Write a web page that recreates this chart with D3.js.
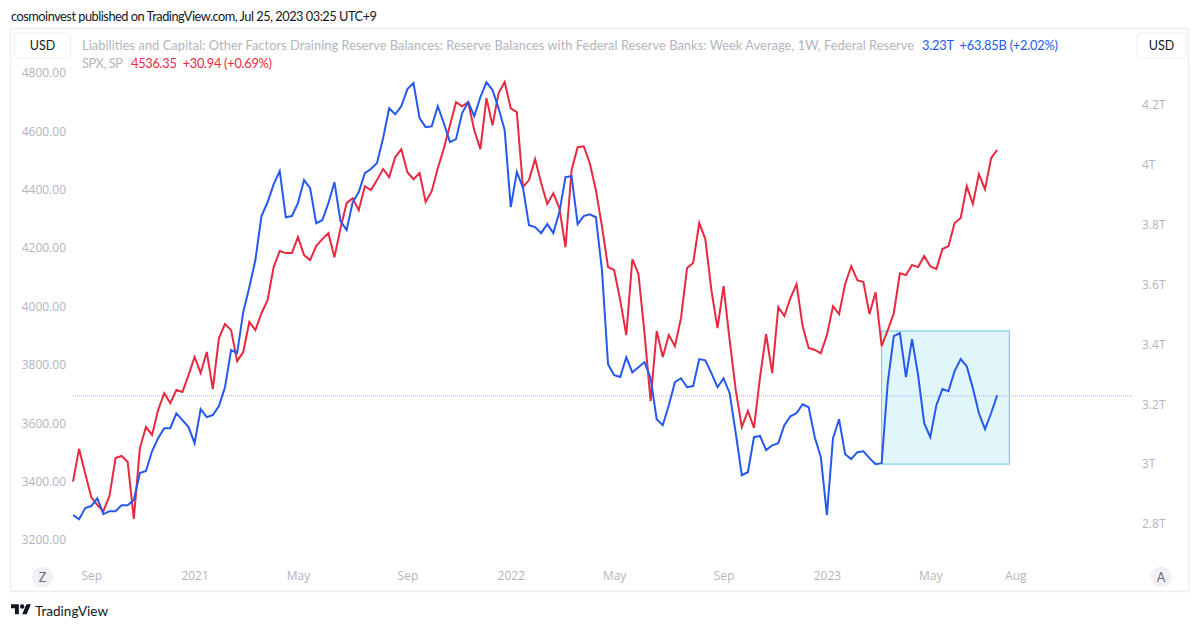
<!DOCTYPE html>
<html>
<head>
<meta charset="utf-8">
<script src="https://cdn.jsdelivr.net/npm/d3@7"></script>
<style>
html,body{margin:0;padding:0;background:#fff;}
svg{display:block;}
text{font-family:Lato,"Open Sans",sans-serif;}
</style>
</head>
<body>
<svg id="chart" width="1200" height="629"></svg>
<script>
// Weekly closes of the S&P 500, first bar on 17 Aug 2020
const spxValues = [
3400,3512,3429,3347,3320,3299,3351,3481,3488,3467,3272,3515,3587,3560,3645,3703,3669,3714,3707,3765,
3827,3772,3844,3717,3892,3940,3919,3813,3844,3947,3919,3977,4022,4135,4190,4183,4183,4238,4176,4159,
4207,4231,4251,4169,4268,4354,4371,4330,4412,4399,4433,4471,4443,4512,4539,4460,4436,4457,4358,4395,
4474,4542,4621,4700,4686,4700,4604,4539,4714,4621,4731,4769,4679,4666,4409,4433,4505,4423,4351,4388,
4337,4203,4467,4546,4549,4491,4399,4275,4135,4125,4022,3902,4162,4111,3909,3676,3916,3827,3902,3864,
3960,4132,4149,4286,4231,4056,3926,4070,3885,3714,3587,3642,3584,3758,3905,3772,3998,3967,4029,4077,
3933,3858,3851,3840,3902,4001,3974,4077,4138,4090,4084,3974,4049,3864,3919,3977,4114,4108,4142,4135,
4173,4138,4128,4197,4207,4286,4303,4412,4351,4453,4402,4508,4536.35];

// Reserve balances with Federal Reserve Banks, weekly average, in trillions of dollars
const reserveValues = [
2.830,2.816,2.853,2.860,2.886,2.833,2.843,2.843,2.863,2.863,2.880,2.970,2.977,3.043,3.087,3.120,3.120,3.170,3.147,3.124,
3.070,3.184,3.157,3.164,3.194,3.257,3.381,3.371,3.508,3.591,3.682,3.829,3.875,3.935,3.979,3.825,3.829,3.872,3.949,3.922,
3.805,3.815,3.872,3.942,3.812,3.782,3.875,3.909,3.972,3.986,4.006,4.089,4.189,4.169,4.196,4.253,4.273,4.156,4.126,4.129,
4.196,4.139,4.076,4.086,4.173,4.209,4.163,4.226,4.276,4.250,4.189,4.116,3.859,3.976,3.925,3.798,3.792,3.772,3.802,3.772,
3.842,3.959,3.962,3.802,3.829,3.835,3.825,3.648,3.334,3.297,3.291,3.357,3.307,3.324,3.341,3.287,3.150,3.130,3.197,3.274,
3.287,3.257,3.261,3.351,3.347,3.304,3.257,3.287,3.237,3.104,2.963,2.973,3.090,3.094,3.047,3.063,3.070,3.130,3.160,3.170,
3.200,3.190,3.090,3.023,2.830,3.087,3.150,3.033,3.017,3.040,3.043,3.020,3.000,3.003,3.271,3.428,3.438,3.291,3.418,3.297,
3.137,3.090,3.197,3.251,3.244,3.311,3.351,3.327,3.254,3.170,3.117,3.170,3.230];

const firstWeek = new Date(Date.UTC(2020, 7, 17));
const weekDates = spxValues.map((_, i) => d3.utcWeek.offset(firstWeek, i));

const timeTickDates = ["2020-09-07","2021-01-04","2021-05-03","2021-09-06","2022-01-03","2022-05-02","2022-09-05","2023-01-02","2023-05-01","2023-08-07"];
const timeTickLabels = ["Sep","2021","May","Sep","2022","May","Sep","2023","May","Aug"];
const spxTicks = [3200,3400,3600,3800,4000,4200,4400,4600,4800];
const reserveTicks = [2.8,3,3.2,3.4,3.6,3.8,4,4.2];

// Highlighted box: from the March 2023 jump to the end of July, 3.00T to 3.445T
const boxDates = ["2023-03-06","2023-07-31"];
const boxLevels = [3.445,3.0];

const headline = "cosmoinvest published on TradingView.com, Jul 25, 2023 03:25 UTC+9";
const reserveName = "Liabilities and Capital: Other Factors Draining Reserve Balances: Reserve Balances with Federal Reserve Banks: Week Average, 1W, Federal Reserve";
const reserveReadout = "3.23T  +63.85B (+2.02%)";
const spxName = "SPX, SP";
const spxReadout = "4536.35  +30.94 (+0.69%)";

const BLUE = "#2559ee", RED = "#e8293f", GREY = "#b2b5be";
const AXIS_FONT = '"Open Sans","Noto Sans",sans-serif';

const svg = d3.select("#chart");
const x = d3.scaleUtc().domain([firstWeek, d3.utcWeek.offset(firstWeek, 155)]).range([73, 1015.4]);
const ySpx = d3.scaleLinear().domain([3200, 4800]).range([540, 73]);
const yRes = d3.scaleLinear().domain([2.8, 4.2]).range([524, 105]);

// Pane border
svg.append("rect").attr("x", 10.5).attr("y", 28.5).attr("width", 1178).attr("height", 563)
  .attr("fill", "#fff").attr("stroke", "#eceef2").attr("stroke-width", 1.5);

// Headline
svg.append("text").attr("x", 11).attr("y", 20.5).attr("font-size", 12.8).attr("fill", "#131722")
  .attr("textLength", 366).attr("lengthAdjust", "spacing").text(headline);

// Highlight box sits under the lines
const bx0 = x(new Date(boxDates[0])), bx1 = x(new Date(boxDates[1]));
svg.append("rect").attr("x", bx0).attr("y", yRes(boxLevels[0]))
  .attr("width", bx1 - bx0).attr("height", yRes(boxLevels[1]) - yRes(boxLevels[0]))
  .attr("fill", "#e1f6fb").attr("stroke", "#66c9d9").attr("stroke-width", 1);

// Last-value guide of the reserve series
svg.append("line").attr("x1", 73).attr("x2", 1133)
  .attr("y1", yRes(reserveValues[reserveValues.length - 1]) + 0.5)
  .attr("y2", yRes(reserveValues[reserveValues.length - 1]) + 0.5)
  .attr("stroke", "#9fb2f5").attr("stroke-width", 1).attr("stroke-dasharray", "1 1");

// Series
const spxLine = d3.line().x((_, i) => x(weekDates[i])).y(d => ySpx(d));
const resLine = d3.line().x((_, i) => x(weekDates[i])).y(d => yRes(d));
svg.append("path").datum(spxValues).attr("d", spxLine).attr("fill", "none")
  .attr("stroke", RED).attr("stroke-width", 2).attr("stroke-linejoin", "miter");
svg.append("path").datum(reserveValues).attr("d", resLine).attr("fill", "none")
  .attr("stroke", BLUE).attr("stroke-width", 2).attr("stroke-linejoin", "miter");

// Axes
function styleAxis(g) {
  g.select(".domain").remove();
  g.selectAll(".tick line").remove();
  g.selectAll("text").attr("fill", GREY).attr("font-size", 12).style("font-family", AXIS_FONT);
}
svg.append("g").attr("transform", "translate(66,0)")
  .call(d3.axisLeft(ySpx).tickValues(spxTicks).tickFormat(d3.format(".2f")).tickSize(0).tickPadding(0))
  .call(styleAxis);
svg.append("g").attr("transform", "translate(1142,0)")
  .call(d3.axisRight(yRes).tickValues(reserveTicks).tickFormat(d => d + "T").tickSize(0).tickPadding(0))
  .call(styleAxis);
const xBottom = d3.axisBottom(x)
  .tickValues(timeTickDates.map(d => new Date(d)))
  .tickFormat((_, i) => timeTickLabels[i]).tickSize(0).tickPadding(0);
svg.append("g").attr("transform", "translate(0,571)").call(xBottom).call(styleAxis);

// Legend rows
svg.append("text").attr("x", 82).attr("y", 49.5).attr("font-size", 12.8).attr("fill", GREY)
  .attr("textLength", 832).attr("lengthAdjust", "spacing").text(reserveName);
svg.append("text").attr("x", 922).attr("y", 49.5).attr("font-size", 12.8).attr("fill", BLUE)
  .style("white-space", "pre")
  .attr("textLength", 136).attr("lengthAdjust", "spacing").text(reserveReadout);
svg.append("text").attr("x", 82).attr("y", 67.5).attr("font-size", 12.8).attr("fill", GREY)
  .attr("textLength", 41).attr("lengthAdjust", "spacing").text(spxName);
svg.append("text").attr("x", 131).attr("y", 67.5).attr("font-size", 12.8).attr("fill", RED)
  .style("white-space", "pre")
  .attr("textLength", 141).attr("lengthAdjust", "spacing").text(spxReadout);

// Currency buttons
const usdButtons = [[14.5, 56], [1137, 49]];
usdButtons.forEach(([bx, bw]) => {
  svg.append("rect").attr("x", bx).attr("y", 33).attr("width", bw).attr("height", 25).attr("rx", 4)
    .attr("fill", "#fff").attr("stroke", "#eceef2");
  svg.append("text").attr("x", bx + bw / 2).attr("y", 50).attr("text-anchor", "middle")
    .attr("font-size", 12.5).attr("fill", "#131722").text("USD");
});

// Timezone and auto-scale round buttons
[[42.5, "Z"], [1161, "A"]].forEach(([cx, t]) => {
  svg.append("circle").attr("cx", cx).attr("cy", 577).attr("r", 10.5).attr("fill", "#f0f1f5");
  svg.append("text").attr("x", cx).attr("y", 581.5).attr("text-anchor", "middle")
    .attr("font-size", 12.5).attr("fill", "#6a6d78").text(t);
});

// Brand mark
const logo = svg.append("g").attr("transform", "translate(11,602) scale(0.56)").attr("fill", "#131722");
logo.append("path").attr("d", "M14 22H7V11H0V4h14v18zM28 22h-8l7.5-18h8L28 22z");
logo.append("circle").attr("cx", 20).attr("cy", 8).attr("r", 4);
svg.append("text").attr("x", 35).attr("y", 615.5).attr("font-size", 13.5).attr("fill", "#131722")
  .attr("textLength", 73).attr("lengthAdjust", "spacing").text("TradingView");
</script>
</body>
</html>
